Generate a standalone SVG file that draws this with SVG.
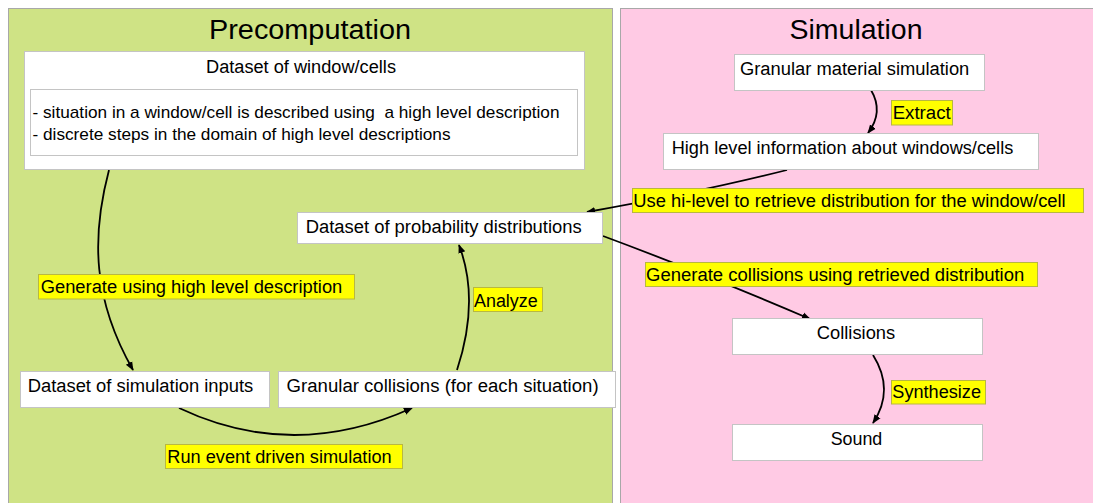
<svg xmlns="http://www.w3.org/2000/svg" width="1093" height="503" viewBox="0 0 1093 503">
<style>
text{font-family:"Liberation Sans",Arial,sans-serif;fill:#000}
.t{font-size:18px}
.s{font-size:17px}
.h{font-size:27px}
.box{fill:#fff;stroke:#c4c4c4;stroke-width:1}
.lbl{fill:#ffff00;stroke:#b8b840;stroke-width:1}
.c{fill:none;stroke:#000;stroke-width:1.8}
</style>
<defs>
<marker id="ah" viewBox="0 0 10 10" refX="9" refY="5" markerWidth="5" markerHeight="5" orient="auto" markerUnits="strokeWidth">
<path d="M0,1 L10,5 L0,9 Z" fill="#000"/>
</marker>
</defs>
<rect width="1093" height="503" fill="#fff"/>
<g id="panel-precomputation">
<rect x="8.5" y="8.5" width="604" height="500" fill="#cfe385" stroke="#a8a8a8" stroke-width="1"/>
<text class="h" x="310" y="39" text-anchor="middle" textLength="202" lengthAdjust="spacingAndGlyphs">Precomputation</text>
</g>
<g id="panel-simulation">
<rect x="620.5" y="8.5" width="480" height="500" fill="#ffcae4" stroke="#a8a8a8" stroke-width="1"/>
<text class="h" x="856" y="39" text-anchor="middle" textLength="133" lengthAdjust="spacingAndGlyphs">Simulation</text>
</g>
<g id="connectors">
<path class="c" d="M109,170 C91,238 93,300 133,370" marker-end="url(#ah)"/>
<path class="c" d="M179,408 Q293,462 412,408" marker-end="url(#ah)"/>
<path class="c" d="M457,370 Q480,300 459,245" marker-end="url(#ah)"/>
<path class="c" d="M871,90 Q884,112 868,133" marker-end="url(#ah)"/>
<path class="c" d="M787,170 Q700,192 587,212" marker-end="url(#ah)"/>
<path class="c" d="M603,236 Q700,272 810,319" marker-end="url(#ah)"/>
<path class="c" d="M873,355 Q895,390 873,423" marker-end="url(#ah)"/>
</g>
<g id="node-window-cells">
<rect class="box" x="24.5" y="51.5" width="560" height="118"/>
<text class="t" x="301" y="73" text-anchor="middle" textLength="190" lengthAdjust="spacingAndGlyphs">Dataset of window/cells</text>
<rect class="box" x="30.5" y="89.5" width="547" height="66"/>
<text class="s" x="32.5" y="118" textLength="527" lengthAdjust="spacingAndGlyphs" xml:space="preserve" style="white-space:pre">- situation in a window/cell is described using  a high level description</text>
<text class="s" x="32.5" y="140" textLength="418" lengthAdjust="spacingAndGlyphs">- discrete steps in the domain of high level descriptions</text>
</g>
<g id="node-probability">
<rect class="box" x="297.5" y="212.5" width="305" height="31"/>
<text class="t" x="305.7" y="233.3" textLength="276" lengthAdjust="spacingAndGlyphs">Dataset of probability distributions</text>
</g>
<g id="node-sim-inputs">
<rect class="box" x="20.5" y="371.5" width="249" height="36"/>
<text class="t" x="27.7" y="392.3" textLength="225.6" lengthAdjust="spacingAndGlyphs">Dataset of simulation inputs</text>
</g>
<g id="node-granular-collisions">
<rect class="box" x="278.5" y="371.5" width="337" height="36"/>
<text class="t" x="286.6" y="392.3" textLength="312" lengthAdjust="spacingAndGlyphs">Granular collisions (for each situation)</text>
</g>
<g id="node-granular-material">
<rect class="box" x="734.5" y="54.5" width="250" height="36"/>
<text class="t" x="740" y="75" textLength="229.3" lengthAdjust="spacingAndGlyphs">Granular material simulation</text>
</g>
<g id="node-high-level">
<rect class="box" x="663.5" y="133.5" width="375" height="36"/>
<text class="t" x="671.7" y="154" textLength="341.6" lengthAdjust="spacingAndGlyphs">High level information about windows/cells</text>
</g>
<g id="node-collisions">
<rect class="box" x="732.5" y="318.5" width="250" height="36"/>
<text class="t" x="856" y="339" text-anchor="middle" textLength="78.3" lengthAdjust="spacingAndGlyphs">Collisions</text>
</g>
<g id="node-sound">
<rect class="box" x="732.5" y="424.5" width="250" height="36"/>
<text class="t" x="856.5" y="444.7" text-anchor="middle" textLength="51.6" lengthAdjust="spacingAndGlyphs">Sound</text>
</g>
<g id="label-generate-using">
<rect class="lbl" x="38.5" y="274.5" width="316" height="24.5"/>
<text class="t" x="40.7" y="293.3" textLength="301.6" lengthAdjust="spacingAndGlyphs">Generate using high level description</text>
</g>
<g id="label-analyze">
<rect class="lbl" x="473.5" y="287.5" width="69" height="24"/>
<text class="t" x="474" y="306.7" textLength="63.7" lengthAdjust="spacingAndGlyphs">Analyze</text>
</g>
<g id="label-run-event">
<rect class="lbl" x="165.5" y="444.5" width="237" height="24"/>
<text class="t" x="167.3" y="463.3" textLength="224.4" lengthAdjust="spacingAndGlyphs">Run event driven simulation</text>
</g>
<g id="label-extract">
<rect class="lbl" x="891.5" y="100.5" width="61" height="24.5"/>
<text class="t" x="892.7" y="119" textLength="58" lengthAdjust="spacingAndGlyphs">Extract</text>
</g>
<g id="label-use-hi-level">
<rect class="lbl" x="632.5" y="188.5" width="451" height="24"/>
<text class="t" x="633.3" y="207.3" textLength="432.4" lengthAdjust="spacingAndGlyphs">Use hi-level to retrieve distribution for the window/cell</text>
</g>
<g id="label-generate-collisions">
<rect class="lbl" x="645.5" y="262.5" width="392" height="24"/>
<text class="t" x="646" y="281" textLength="378.3" lengthAdjust="spacingAndGlyphs">Generate collisions using retrieved distribution</text>
</g>
<g id="label-synthesize">
<rect class="lbl" x="891.5" y="380.5" width="94" height="23.5"/>
<text class="t" x="892.3" y="398.3" textLength="88.7" lengthAdjust="spacingAndGlyphs">Synthesize</text>
</g>
</svg>
